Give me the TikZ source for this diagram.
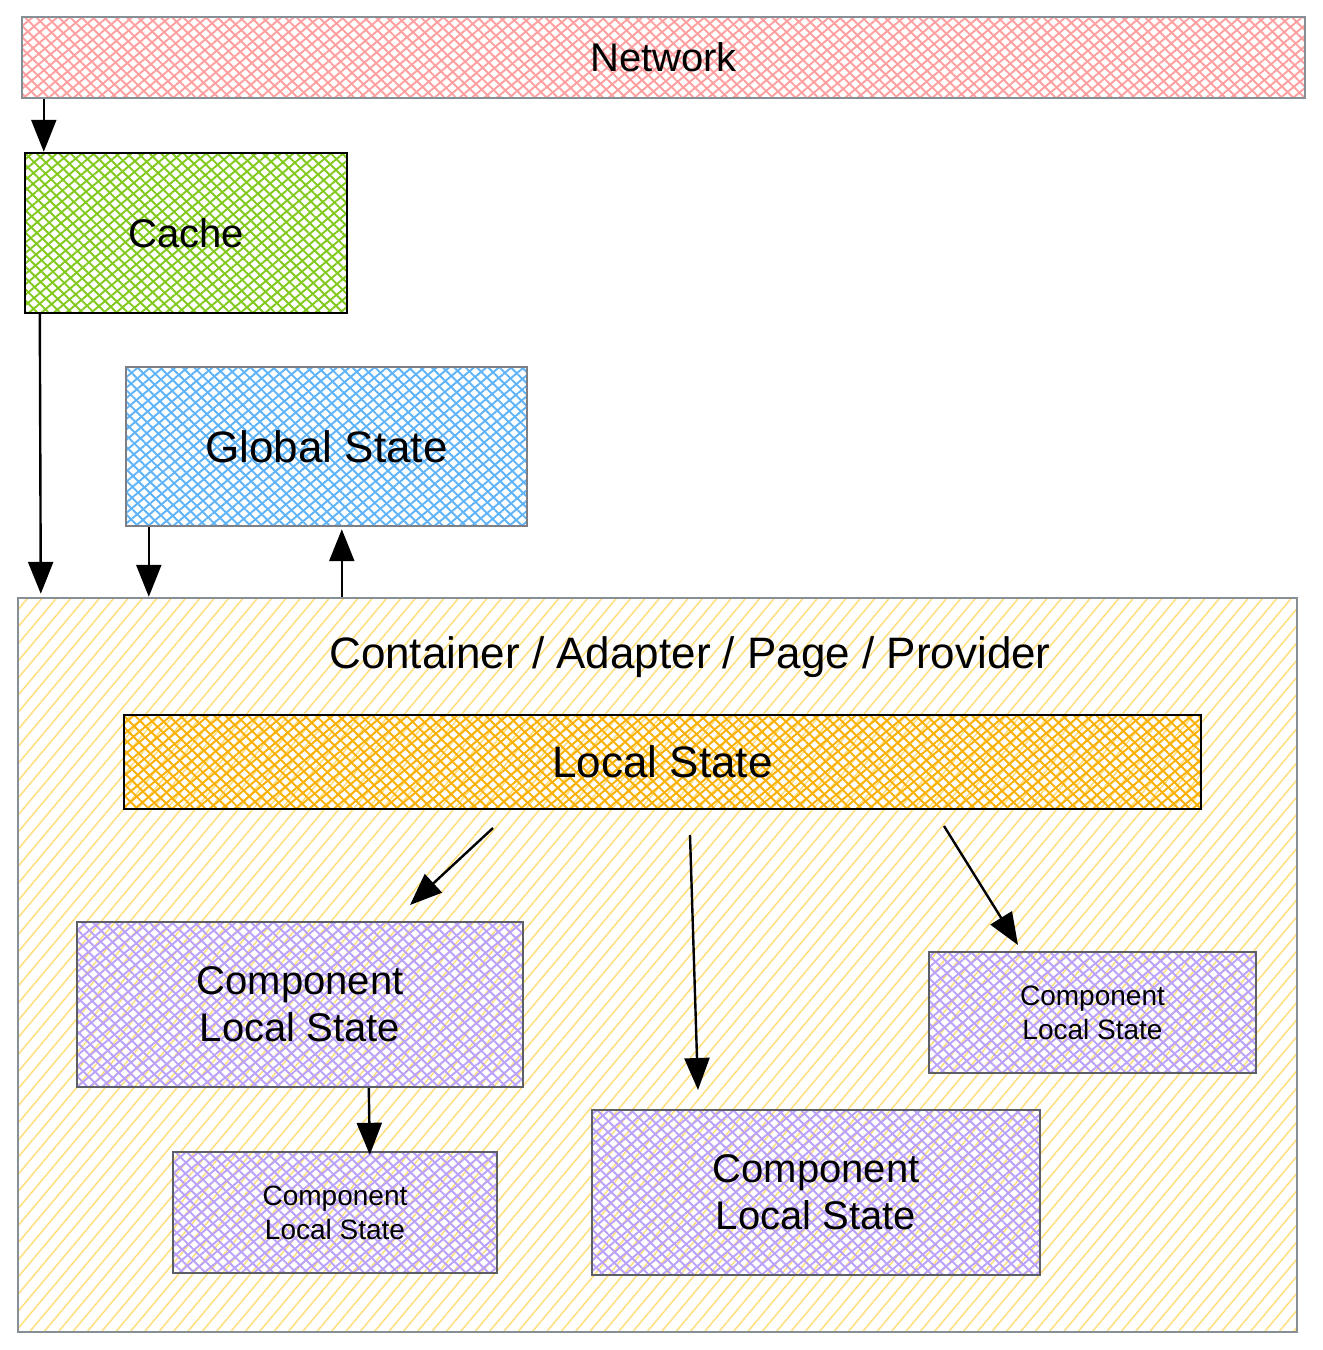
\documentclass[tikz,border=0pt]{standalone}
\usepackage{fontspec}
\setmainfont{Liberation Sans}
\usetikzlibrary{patterns.meta,arrows.meta}
\definecolor{netc}{HTML}{FF8787}
\definecolor{cachec}{HTML}{82C91E}
\definecolor{globc}{HTML}{4DABF7}
\definecolor{contc}{HTML}{FFD866}
\definecolor{lsc}{HTML}{FAB005}
\definecolor{compc}{HTML}{B197FC}
\definecolor{grayb}{HTML}{868E96}
\definecolor{darkb}{HTML}{5C5F66}
\tikzset{
  hatchbox/.style={rectangle, inner sep=0pt, line width=2.4pt,
    preaction={pattern={Lines[angle=40,distance=8pt,line width=1.9pt]}, pattern color=#1},
    preaction={pattern={Lines[angle=-45,distance=8pt,line width=1.9pt]}, pattern color=#1}},
  bigtxt/.style={font=\fontsize{40}{47}\selectfont, align=center},
  smalltxt/.style={font=\fontsize{28}{34}\selectfont, align=center},
  arr/.style={line width=2.4pt, -{Triangle[length=32pt,width=25pt]}},
}
\begin{document}
\begin{tikzpicture}[x=1pt,y=-1pt]
\useasboundingbox (0,0) rectangle (1323,1350);
% container
\node[rectangle, inner sep=0pt, line width=2.4pt, draw=grayb,
  preaction={pattern={Lines[angle=50,distance=11pt,line width=1.5pt]}, pattern color=contc!85},
  minimum width=1279pt, minimum height=734pt] (cont) at (657.5,965) {};
\node[font=\fontsize{44}{50}\selectfont] (contlabel) at (690,657) {Container / Adapter / Page / Provider};
% top boxes
\node[hatchbox=netc!80, draw=grayb, minimum width=1283pt, minimum height=81pt, bigtxt] (net) at (663.5,57.5) {Network};
\node[hatchbox=cachec, draw=black, minimum width=322pt, minimum height=160pt, bigtxt] (cache) at (186,233) {Cache};
\node[hatchbox=globc!90, draw=darkb!80, minimum width=401pt, minimum height=159pt, font=\fontsize{44}{50}\selectfont] (glob) at (326.5,446.5) {Global State};
% local state
\node[hatchbox=lsc, draw=black, minimum width=1077pt, minimum height=94pt, font=\fontsize{44}{50}\selectfont] (ls) at (662.5,762) {Local State};
% components
\node[hatchbox=compc!90, draw=darkb, minimum width=446pt, minimum height=165pt, bigtxt] (c1) at (300,1004.5) {Component\\Local State};
\node[hatchbox=compc!90, draw=darkb, minimum width=324pt, minimum height=121pt, smalltxt] (c2) at (335,1212.5) {Component\\Local State};
\node[hatchbox=compc!90, draw=darkb, minimum width=448pt, minimum height=165pt, bigtxt] (c3) at (816,1192.5) {Component\\Local State};
\node[hatchbox=compc!90, draw=darkb, minimum width=327pt, minimum height=121pt, smalltxt] (c4) at (1092.5,1012.5) {Component\\Local State};
% arrows
\draw[arr] ([xshift=23pt]net.south west) -- ([xshift=20pt]cache.north west);
\draw[arr] ([xshift=16pt]cache.south west) -- ([xshift=24pt,yshift=3pt]cont.north west);
\draw[arr] ([xshift=24pt]glob.south west) -- ([xshift=132pt]cont.north west);
\draw[arr] ([xshift=325pt]cont.north west) -- ([xshift=217pt,yshift=-2pt]glob.south west);
\coordinate (a1s) at (493,828);
\coordinate (a1e) at (410,905);
\coordinate (a2s) at (690,835);
\coordinate (a2e) at (698,1090);
\coordinate (a3s) at (944,826);
\coordinate (a3e) at (1018,945);
\draw[arr] (a1s) -- (a1e);
\draw[arr] (a2s) -- (a2e);
\draw[arr] (a3s) -- (a3e);
\draw[arr] ([xshift=293pt]c1.south west) -- ([xshift=198pt,yshift=-4pt]c2.north west);
\end{tikzpicture}
\end{document}
